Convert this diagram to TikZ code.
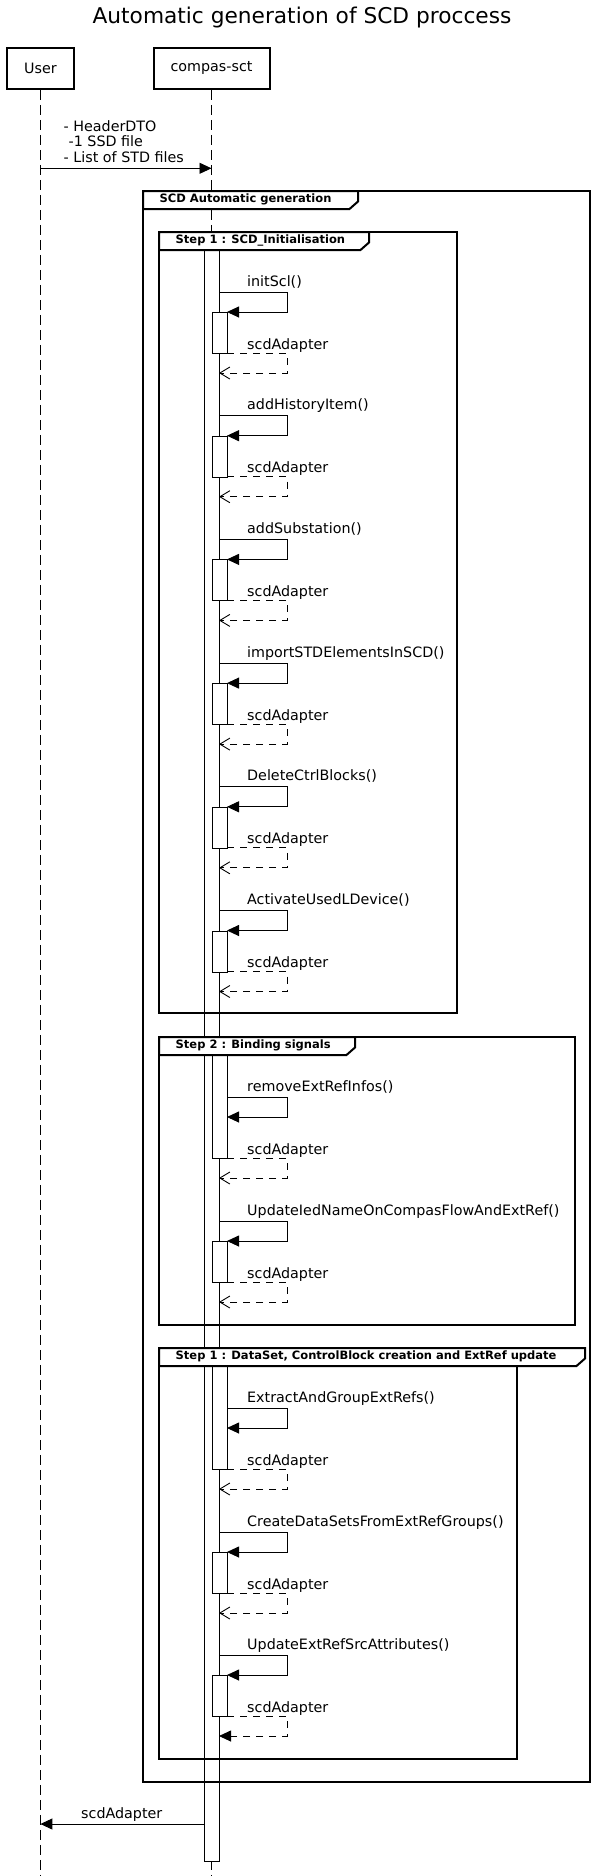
\documentclass[tikz,border=0pt]{standalone}
\usepackage{fontspec}
\setmainfont{DejaVu Sans}
\usetikzlibrary{arrows.meta}
\tikzset{
  frame/.style={draw, line width=2pt},
  tabshape/.style={draw, fill=white, line width=2pt, line join=miter},
  tabtext/.style={font=\bfseries\fontsize{11.5}{13}\selectfont, anchor=base west, inner sep=0pt},
  lbl/.style={font=\fontsize{14.3}{16}\selectfont, anchor=base west, inner sep=0pt},
  bar/.style={draw, fill=white, line width=0.9pt},
  msg/.style={line width=0.9pt, -{Triangle[length=12pt,width=11pt]}},
  ret/.style={line width=0.9pt, dash pattern=on 7pt off 6pt, -{Straight Barb[length=10pt,width=12pt]}},
  retf/.style={line width=0.9pt, dash pattern=on 7pt off 6pt, -{Triangle[length=12pt,width=11pt]}},
  lifeline/.style={line width=1pt, dash pattern=on 10pt off 5pt},
  participant/.style={draw, line width=2pt, minimum height=41pt, font=\fontsize{14.3}{16}\selectfont, inner sep=0pt}
}
\newcommand\callgrp[6]{%
  \coordinate (#1s) at (#4,#2);
  \coordinate (#1r) at (287,#2);
  \coordinate (#1e) at (227,#2+20);
  \draw[msg] (#1s) -- (#1r) |- (#1e);
  \node[lbl] (#1l) at (247,#2-6) {#5};
  \coordinate (#1bs) at (227,#2+61);
  \coordinate (#1br) at (287,#2+61);
  \coordinate (#1be) at (219,#2+81);
  \draw[#6] (#1bs) -- (#1br) |- (#1be);
  \node[lbl] (#1rl) at (247,#2+57) {scdAdapter};
}
\newcommand\nbar[3]{\node[bar, minimum width=15pt, minimum height=#3-#2, anchor=north, inner sep=0pt] (#1) at (219.5,#2) {};}
\newcommand\tabbox[5]{%
  \draw[tabshape] (#2,#3) -- (#4,#3) -- (#4,#3+10.5) -- (#4-8.5,#3+18) -- (#2,#3+18) -- cycle;
  \node[tabtext] (#1) at (#2+16.5,#3+11.6) {#5};
}
\begin{document}
\begin{tikzpicture}[x=1pt,y=-1pt]
\useasboundingbox (0,0) rectangle (605,1876);
\fill[white] (0,0) rectangle (605,1876);
% title
\node[font=\fontsize{21.7}{24}\selectfont, anchor=base, inner sep=0pt] (title) at (302,23.3) {Automatic generation of SCD proccess};
% participants
\node[participant, minimum width=67pt] (user) at (40.4,68.3) {User};
\node[participant, minimum width=116pt] (sct) at (211.5,68.3) {compas-sct};
\coordinate (userend) at (40.4,1876);
\coordinate (sctend) at (211.5,1876);
\draw[lifeline] (user.south) -- (userend);
\draw[lifeline] (sct.south) -- (sctend);
% first message
\node[lbl] (h1) at (63.5,131.7) {- HeaderDTO};
\node[lbl] (h2) at (68.5,146.7) {-1 SSD file};
\node[lbl] (h3) at (63.5,162.3) {- List of STD files};
\coordinate (m1s) at (40.4,168.3);
\coordinate (m1e) at (211.5,168.3);
\draw[msg] (m1s) -- (m1e);
% main activation bar
\node[bar, minimum width=15pt, minimum height=1612pt, anchor=north, inner sep=0pt] (mainbar) at (211.5,249) {};
% nested activation bars
\nbar{b1}{312}{353}
\nbar{b2}{435.7}{476.7}
\nbar{b3}{559.4}{600.4}
\nbar{b4}{683.1}{724.1}
\nbar{b5}{806.8}{847.8}
\nbar{b6}{930.5}{971.5}
\nbar{b7}{1054}{1158}
\nbar{b8}{1241}{1282}
\nbar{b9}{1365}{1469}
\nbar{b10}{1552}{1593}
\nbar{b11}{1675}{1716}
% frames
\draw[frame] (143,191) rectangle (590,1782);
\draw[frame] (159,232) rectangle (457,1013);
\draw[frame] (159,1037) rectangle (575,1325);
\draw[frame] (159,1348) rectangle (517,1759);
\tabbox{t0}{143}{191}{358}{SCD Automatic generation}
\tabbox{t1}{159}{232}{369}{Step 1 : SCD\_Initialisation}
\tabbox{t2}{159}{1037}{355}{Step 2 : Binding signals}
\tabbox{t3}{159}{1348}{585}{Step 1 : DataSet, ControlBlock creation and ExtRef update}
% calls
\callgrp{g1}{292}{}{219}{initScl()}{ret}
\callgrp{g2}{415.7}{}{219}{addHistoryItem()}{ret}
\callgrp{g3}{539.4}{}{219}{addSubstation()}{ret}
\callgrp{g4}{663.1}{}{219}{importSTDElementsInSCD()}{ret}
\callgrp{g5}{786.8}{}{219}{DeleteCtrlBlocks()}{ret}
\callgrp{g6}{910.5}{}{219}{ActivateUsedLDevice()}{ret}
\callgrp{g7}{1097}{}{227}{removeExtRefInfos()}{ret}
\callgrp{g8}{1221}{}{219}{UpdateIedNameOnCompasFlowAndExtRef()}{ret}
\callgrp{g9}{1408}{}{227}{ExtractAndGroupExtRefs()}{ret}
\callgrp{g10}{1532}{}{219}{CreateDataSetsFromExtRefGroups()}{ret}
\callgrp{g11}{1655}{}{219}{UpdateExtRefSrcAttributes()}{retf}
% final return
\coordinate (fs) at (204,1824);
\coordinate (fe) at (40.4,1824);
\draw[msg] (fs) -- (fe);
\node[lbl] (fl) at (81,1818) {scdAdapter};
\end{tikzpicture}
\end{document}
